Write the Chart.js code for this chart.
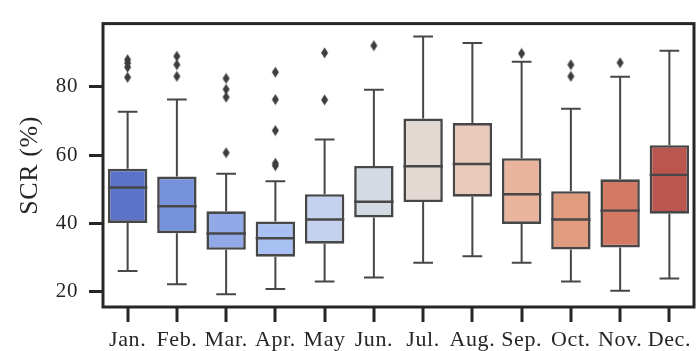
<!DOCTYPE html>
<html>
<head>
<meta charset="utf-8">
<script src="https://cdn.jsdelivr.net/npm/chart.js@4.4.1/dist/chart.umd.min.js"></script>
<style>
  html, body { margin: 0; padding: 0; background: #ffffff; }
  #wrap { width: 700px; height: 351px; position: relative; }
</style>
</head>
<body>
<div id="wrap"><canvas id="c"></canvas></div>
<script>
// ---- data ----
const months = ['Jan.', 'Feb.', 'Mar.', 'Apr.', 'May', 'Jun.', 'Jul.', 'Aug.', 'Sep.', 'Oct.', 'Nov.', 'Dec.'];
const q1      = [40.1, 37.1, 32.2, 30.2, 34.0, 41.7, 46.2, 47.8, 39.8, 32.3, 32.9, 42.8];
const q3      = [56.0, 53.7, 43.5, 40.5, 48.5, 56.8, 70.7, 69.4, 59.1, 49.4, 52.9, 62.9];
const medians = [50.5, 45.0, 37.0, 35.6, 41.1, 46.3, 56.7, 57.4, 48.5, 41.1, 43.7, 54.2];
const whiskerLow  = [26.0, 22.1, 19.2, 20.7, 22.9, 24.1, 28.4, 30.3, 28.4, 22.9, 20.2, 23.8];
const whiskerHigh = [72.7, 76.3, 54.5, 52.3, 64.6, 79.2, 94.8, 92.9, 87.4, 73.6, 83.0, 90.6];
const outlierMonths = ['Jan.', 'Jan.', 'Jan.', 'Jan.', 'Feb.', 'Feb.', 'Feb.', 'Mar.', 'Mar.', 'Mar.', 'Mar.',
                       'Apr.', 'Apr.', 'Apr.', 'Apr.', 'Apr.', 'May', 'May', 'Jun.', 'Sep.', 'Oct.', 'Oct.', 'Nov.'];
const outlierValues = [88.0, 87.0, 85.8, 82.8, 89.0, 86.5, 83.1, 82.5, 79.3, 77.0, 60.7,
                       84.3, 76.3, 67.2, 57.6, 56.9, 90.0, 76.2, 92.1, 89.8, 86.5, 83.1, 87.1];
const yTicks = [20, 40, 60, 80];
const yLabel = 'SCR (%)';

// ---- styles ----
const boxColors = ['#5b73c8', '#7692dc', '#91aae7', '#a9c1f2', '#c4d2ef', '#d4dae4',
                   '#e3d9d3', '#eacab9', '#e9b39c', '#e19c80', '#d37a65', '#bb5550'];
const lineColor = '#474747';
const axisColor = '#262626';
const fontFamily = '"Liberation Serif", "DejaVu Serif", serif';

// thin diamond marker
function diamond() {
  const cv = document.createElement('canvas');
  cv.width = 9; cv.height = 12;
  const g = cv.getContext('2d');
  g.fillStyle = '#3d3d3d';
  g.beginPath();
  g.moveTo(4.5, 0.5); g.lineTo(8, 6); g.lineTo(4.5, 11.5); g.lineTo(1, 6);
  g.closePath(); g.fill();
  return cv;
}

const spacingPlugin = {
  id: 'spacing',
  beforeInit(chart) { chart.ctx.letterSpacing = '0.6px'; },
  beforeLayout(chart) { chart.ctx.letterSpacing = '0.6px'; }
};

const boxPlugin = {
  id: 'boxParts',
  afterDatasetsDraw(chart) {
    const ctx = chart.ctx;
    const xs = chart.scales.x, ys = chart.scales.y;
    const meta = chart.getDatasetMeta(0);
    const a = chart.chartArea;
    ctx.save();
    ctx.strokeStyle = lineColor;
    ctx.lineCap = 'butt';
    months.forEach((m, i) => {
      const bar = meta.data[i];
      const x = xs.getPixelForValue(i);
      const half = bar.width / 2;
      const capHalf = half / 2;
      const yq1 = ys.getPixelForValue(q1[i]);
      const yq3 = ys.getPixelForValue(q3[i]);
      const ylo = ys.getPixelForValue(whiskerLow[i]);
      const yhi = ys.getPixelForValue(whiskerHigh[i]);
      const ymed = ys.getPixelForValue(medians[i]);
      ctx.lineWidth = 2;
      ctx.beginPath();
      ctx.moveTo(x, yq1); ctx.lineTo(x, ylo);
      ctx.moveTo(x, yq3); ctx.lineTo(x, yhi);
      ctx.moveTo(x - capHalf, ylo); ctx.lineTo(x + capHalf, ylo);
      ctx.moveTo(x - capHalf, yhi); ctx.lineTo(x + capHalf, yhi);
      ctx.stroke();
      ctx.lineWidth = 2.4;
      ctx.beginPath();
      ctx.moveTo(x - half, ymed); ctx.lineTo(x + half, ymed);
      ctx.stroke();
      // x tick mark
      ctx.strokeStyle = axisColor;
      ctx.lineWidth = 3;
      ctx.beginPath();
      ctx.moveTo(Math.round(x), a.bottom); ctx.lineTo(Math.round(x), a.bottom + 15);
      ctx.stroke();
      ctx.strokeStyle = lineColor;
    });
    // frame
    ctx.strokeStyle = axisColor;
    ctx.lineWidth = 3;
    ctx.strokeRect(a.left, a.top, a.right - a.left, a.bottom - a.top);
    ctx.restore();
  }
};

new Chart(document.getElementById('c'), {
  data: {
    labels: months,
    datasets: [
      {
        type: 'bar',
        data: months.map((m, i) => [q1[i], q3[i]]),
        backgroundColor: boxColors,
        borderColor: lineColor,
        borderWidth: 2.6,
        borderSkipped: false,
        barPercentage: 0.8,
        categoryPercentage: 1.0,
        order: 2
      },
      {
        type: 'line',
        data: outlierMonths.map((m, i) => ({ x: m, y: outlierValues[i] })),
        showLine: false,
        pointStyle: diamond(),
        pointRadius: 5,
        order: 1
      }
    ]
  },
  options: {
    responsive: true,
    maintainAspectRatio: false,
    animation: false,
    devicePixelRatio: 1,
    layout: { padding: { top: 16, right: 3, left: 0, bottom: 0 } },
    plugins: { legend: { display: false }, tooltip: { enabled: false } },
    scales: {
      x: {
        type: 'category',
        offset: true,
        grid: { display: false, drawOnChartArea: false, drawTicks: true, tickLength: 14 },
        border: { display: false },
        ticks: { color: axisColor, padding: 6, maxRotation: 0, autoSkip: false, font: { family: fontFamily, size: 22 } },
        afterFit(s) { s.height = 44; }
      },
      y: {
        type: 'linear',
        min: 15.43,
        max: 98.57,
        afterBuildTicks(s) { s.ticks = yTicks.map(v => ({ value: v })); },
        grid: { drawOnChartArea: false, drawTicks: true, tickLength: 14, tickWidth: 3, tickColor: axisColor },
        border: { display: false },
        ticks: { color: axisColor, padding: 11, font: { family: fontFamily, size: 21 } },
        title: { display: true, text: yLabel, color: axisColor, padding: { top: 15, bottom: 0 }, font: { family: fontFamily, size: 26, weight: 'normal' } },
        afterFit(s) { s.width = 103; }
      }
    }
  },
  plugins: [spacingPlugin, boxPlugin]
});
</script>
</body>
</html>
